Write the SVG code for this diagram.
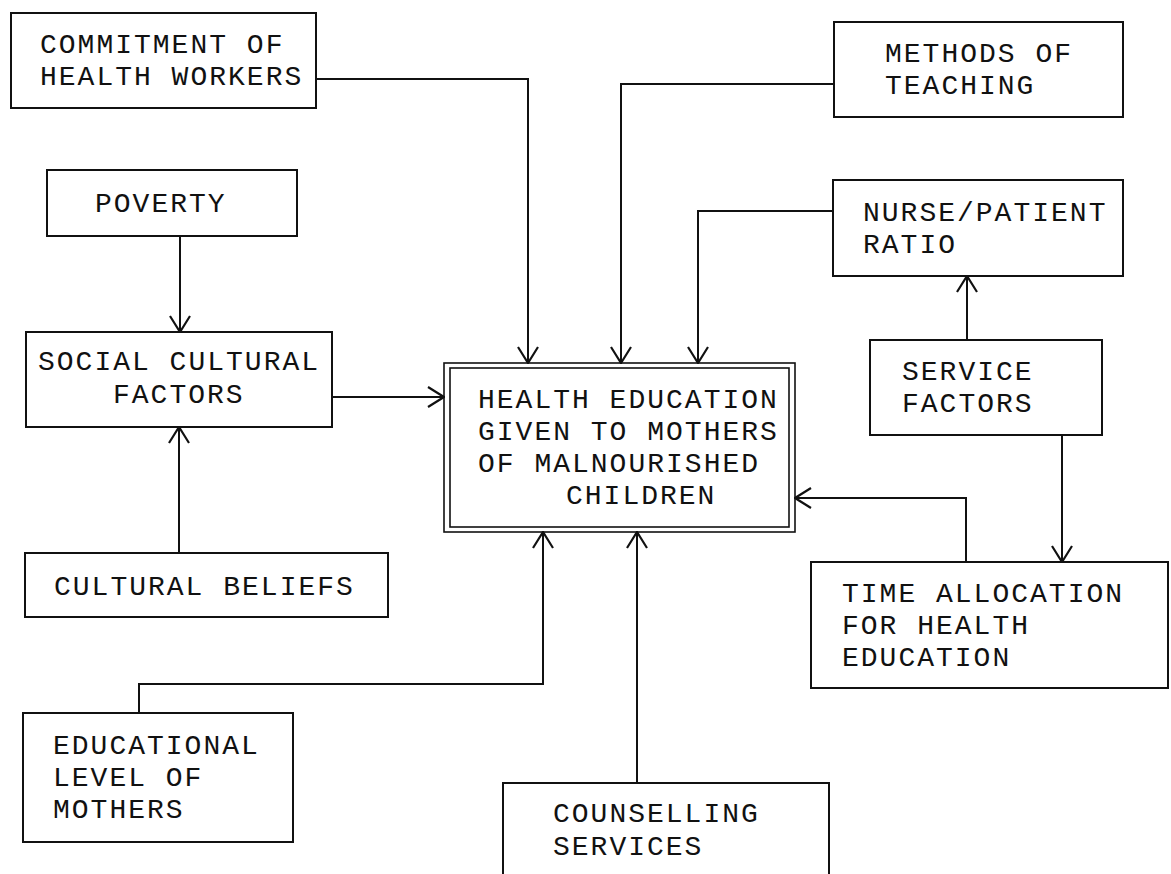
<svg xmlns="http://www.w3.org/2000/svg" width="1171" height="874" viewBox="0 0 1171 874">
<style>
.box{fill:#fff;stroke:#111;stroke-width:2}
.dbl{fill:none;stroke:#111;stroke-width:1.6}
.t{font-family:"Liberation Mono","Courier New",monospace;font-size:28px;letter-spacing:2px;fill:#111}
.c{fill:none;stroke:#111;stroke-width:2}
</style>
<defs>
<marker id="arr" viewBox="0 0 20 24" refX="19" refY="12" markerWidth="20" markerHeight="24" orient="auto" markerUnits="userSpaceOnUse">
<path d="M3,2 L19,12 L3,22" fill="none" stroke="#111" stroke-width="2.2"/>
</marker>
</defs>
<rect width="1171" height="874" fill="#fff"/>
<g id="connectors">
<path class="c" d="M316,79 H528 V363" marker-end="url(#arr)"/>
<path class="c" d="M834,84 H621 V363" marker-end="url(#arr)"/>
<path class="c" d="M833,211 H698 V363" marker-end="url(#arr)"/>
<path class="c" d="M180,236 V332" marker-end="url(#arr)"/>
<path class="c" d="M179,553 V427" marker-end="url(#arr)"/>
<path class="c" d="M332,397 H444" marker-end="url(#arr)"/>
<path class="c" d="M139,713 V684 H543 V532" marker-end="url(#arr)"/>
<path class="c" d="M637,783 V532" marker-end="url(#arr)"/>
<path class="c" d="M967,340 V276" marker-end="url(#arr)"/>
<path class="c" d="M1062,435 V562" marker-end="url(#arr)"/>
<path class="c" d="M966,562 V498 H795" marker-end="url(#arr)"/>
</g>
<g id="commitment">
<rect class="box" x="11" y="13" width="305" height="95"/>
<text class="t" x="40" y="53">COMMITMENT OF</text>
<text class="t" x="40" y="85">HEALTH WORKERS</text>
</g>
<g id="methods">
<rect class="box" x="834" y="22" width="289" height="95"/>
<text class="t" x="885" y="62">METHODS OF</text>
<text class="t" x="885" y="94">TEACHING</text>
</g>
<g id="poverty">
<rect class="box" x="47" y="170" width="250" height="66"/>
<text class="t" x="95" y="212">POVERTY</text>
</g>
<g id="nurse">
<rect class="box" x="833" y="180" width="290" height="96"/>
<text class="t" x="863" y="221">NURSE/PATIENT</text>
<text class="t" x="863" y="253">RATIO</text>
</g>
<g id="social">
<rect class="box" x="26" y="332" width="306" height="95"/>
<text class="t" x="38" y="370">SOCIAL CULTURAL</text>
<text class="t" x="113" y="403">FACTORS</text>
</g>
<g id="center">
<rect class="dbl" x="444" y="363" width="351" height="169" fill="#fff"/>
<rect class="dbl" x="450" y="368" width="339" height="159"/>
<text class="t" x="478" y="408">HEALTH EDUCATION</text>
<text class="t" x="478" y="440">GIVEN TO MOTHERS</text>
<text class="t" x="478" y="472">OF MALNOURISHED</text>
<text class="t" x="566" y="504">CHILDREN</text>
</g>
<g id="service">
<rect class="box" x="870" y="340" width="232" height="95"/>
<text class="t" x="902" y="380">SERVICE</text>
<text class="t" x="902" y="412">FACTORS</text>
</g>
<g id="beliefs">
<rect class="box" x="25" y="553" width="363" height="64"/>
<text class="t" x="54" y="595">CULTURAL BELIEFS</text>
</g>
<g id="time">
<rect class="box" x="811" y="562" width="357" height="126"/>
<text class="t" x="842" y="602">TIME ALLOCATION</text>
<text class="t" x="842" y="634">FOR HEALTH</text>
<text class="t" x="842" y="666">EDUCATION</text>
</g>
<g id="educational">
<rect class="box" x="23" y="713" width="270" height="129"/>
<text class="t" x="53" y="754">EDUCATIONAL</text>
<text class="t" x="53" y="786">LEVEL OF</text>
<text class="t" x="53" y="818">MOTHERS</text>
</g>
<g id="counselling">
<rect class="box" x="503" y="783" width="326" height="110"/>
<text class="t" x="553" y="822">COUNSELLING</text>
<text class="t" x="553" y="855">SERVICES</text>
</g>
</svg>
